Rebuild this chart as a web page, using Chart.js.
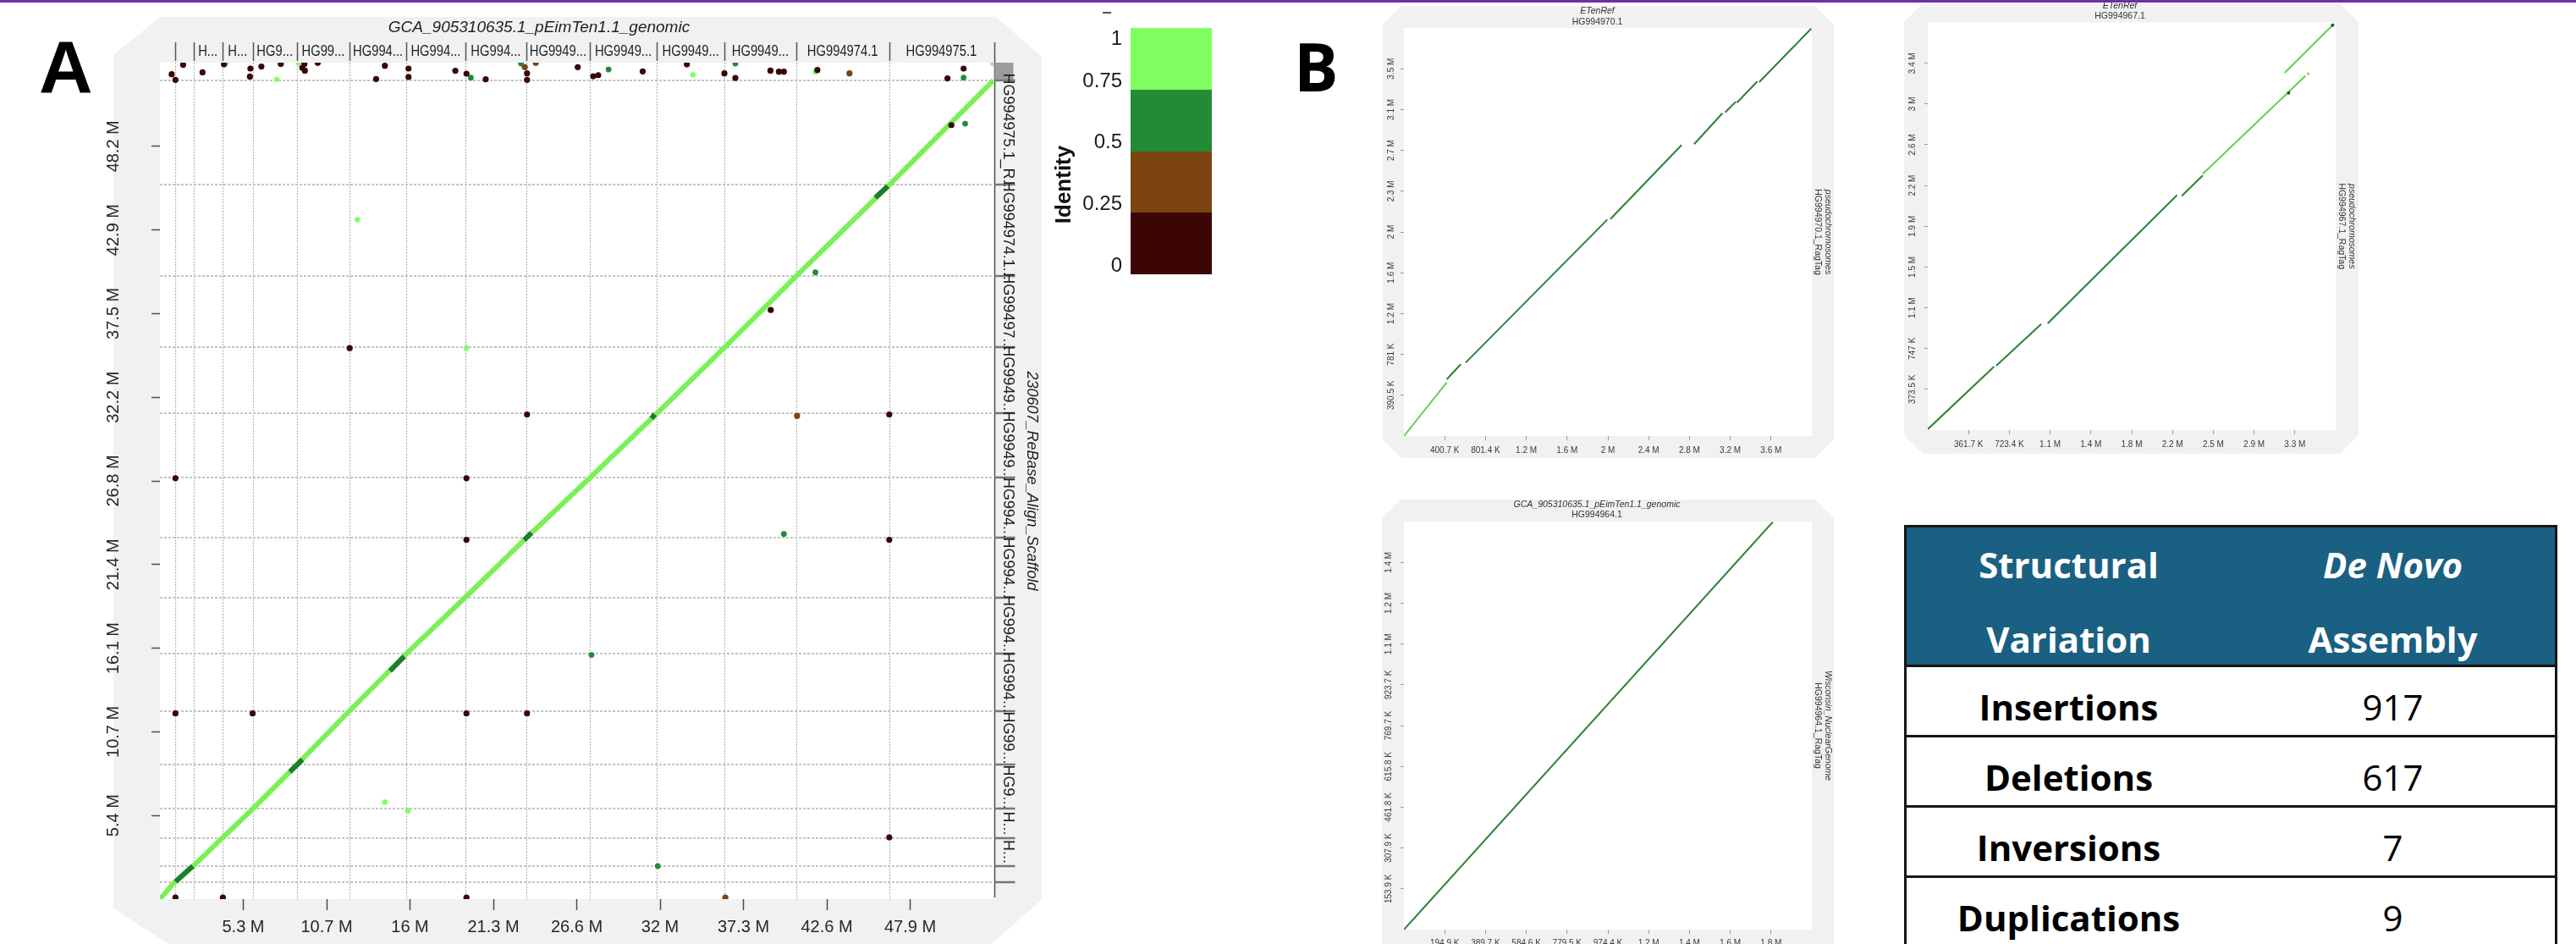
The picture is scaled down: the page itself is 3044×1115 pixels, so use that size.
<!DOCTYPE html>
<html>
<head>
<meta charset="utf-8">
<title>Whole-genome dot plots and structural variation summary</title>
<script src="https://cdn.jsdelivr.net/npm/chart.js@4.4.1/dist/chart.umd.min.js"></script>
<style>
  html, body { margin: 0; padding: 0; background: #fff; }
  body { width: 3044px; height: 1115px; position: relative; overflow: hidden; font-family: 'Liberation Sans', Arial, sans-serif; }
  .abs { position: absolute; }
  canvas { position: absolute; }
  #topRule { left: 0; top: 0; width: 3044px; height: 3px; background: #7030a0; z-index: 5; }
  #tagA { left: 46px; top: 35px; font: 700 88px/1 'Liberation Sans', Arial, sans-serif; color: #000; }
  #tagB { left: 1529px; top: 39px; font: 700 78px/1 'Open Sans', sans-serif; color: #000; }
  #idLegend { left: 1230px; top: 0; width: 220px; height: 340px; }
  #idLegend .bar { position: absolute; left: 106px; top: 33px; width: 96px; height: 291px; display: flex; flex-direction: column; }
  #idLegend .bar div { flex: 1; }
  #idLegend .lab { position: absolute; right: 124px; font: 24px/1 'Liberation Sans', Arial, sans-serif; color: #1a1a1a; transform: translateY(-50%); white-space: nowrap; }
  #idLegend .ttl { position: absolute; left: 26px; top: 218px; font: 700 26px/1 'Liberation Sans', Arial, sans-serif; color: #111; transform: translate(-50%, -50%) rotate(-90deg); white-space: nowrap; }
  #idLegend .nub { position: absolute; left: 73px; top: 14px; width: 10px; height: 2px; background: #555; }
  #svTable { left: 2250px; top: 620px; width: 772px; border: 3px solid #161616; border-bottom: none; box-sizing: border-box; font-family: 'Open Sans', sans-serif; }
  #svTable .head { height: 162px; background: #1a6082; border-bottom: 3px solid #161616; display: flex; color: #fff; font-weight: 700; font-size: 42px; line-height: 88px; }
  #svTable .row { height: 80px; border-bottom: 3px solid #161616; display: flex; font-size: 42px; line-height: 80px; color: #000; }
  #svTable .cell { flex: 1; text-align: center; white-space: nowrap; }
  #svTable .row .cell { padding-top: 7px; height: 73px; }
  #svTable .row .name { font-weight: 700; }
</style>
</head>
<body>
<div id="topRule" class="abs"></div>
<div id="tagA" class="abs">A</div>
<div id="tagB" class="abs">B</div>

<canvas id="dotA" width="1162" height="1115" style="left:100px;top:0;width:1162px;height:1115px"></canvas>
<div id="idLegend" class="abs"></div>

<canvas id="dotB1" width="533" height="545" style="left:1634px;top:0;width:533px;height:545px"></canvas>
<canvas id="dotB2" width="537" height="540" style="left:2250px;top:0;width:537px;height:540px"></canvas>
<canvas id="dotB3" width="534" height="535" style="left:1633px;top:580px;width:534px;height:535px"></canvas>

<div id="svTable" class="abs"></div>

<script>
// ---------------- shared ----------------
const NARROW = "'Liberation Sans Narrow', 'Arial Narrow', 'Liberation Sans', Arial, sans-serif";
const SANS = "'Liberation Sans', Arial, sans-serif";

// identity classes, high → low
const identityBreaks = ['1', '0.75', '0.5', '0.25', '0'];
const identityColors = ['#80ff60', '#238b35', '#7b4411', '#3c0607'];

// ---------------- panel A: whole genome (positions in Mb) ----------------
const refTitle = 'GCA_905310635.1_pEimTen1.1_genomic';
const scafTitle = '230607_ReBase_Align_Scaffold';

const refBoundsMb = [0, 0.95, 2.14, 3.99, 5.93, 8.74, 12.12, 15.73, 19.51, 23.40, 27.46, 31.74, 36.07, 40.63, 46.59, 53.25];
const refNames = ['', '', 'H...', 'H...', 'HG9...', 'HG99...', 'HG994...', 'HG994...', 'HG994...',
                  'HG9949...', 'HG9949...', 'HG9949...', 'HG9949...', 'HG994974.1', 'HG994975.1'];

const scafBoundsMb = [0, 1.11, 2.14, 3.93, 5.78, 8.60, 12.07, 15.71, 19.34, 23.14, 26.99, 31.12, 35.35, 39.91, 45.77, 52.47];
const scafNames = ['', '', 'H...', 'H...', 'HG9...', 'HG99...', 'HG994...', 'HG994...', 'HG994...', 'HG994...',
                   'HG9949...', 'HG9949...', 'HG99497...', 'HG994974.1...', 'HG994975.1_R...'];
const scafTopMb = 53.6;

const xTickMb = [5.325, 10.65, 15.975, 21.3, 26.625, 31.95, 37.275, 42.6, 47.925];
const xTickText = ['5.3 M', '10.7 M', '16 M', '21.3 M', '26.6 M', '32 M', '37.3 M', '42.6 M', '47.9 M'];
const yTickMb = [5.36, 10.72, 16.08, 21.44, 26.8, 32.16, 37.52, 42.88, 48.24];
const yTickText = ['5.4 M', '10.7 M', '16.1 M', '21.4 M', '26.8 M', '32.2 M', '37.5 M', '42.9 M', '48.2 M'];

// main collinear alignment: each reference chromosome start paired with its scaffold start
const alignRefMb = refBoundsMb;
const alignScafMb = scafBoundsMb;

// stretches of the main alignment at 0.5–0.75 identity: [refStart, scafStart, refEnd, scafEnd]
const diagMidBlocks = [
  [1.0, 1.12, 2.1, 2.12],
  [8.3, 8.16, 9.1, 8.95],
  [14.7, 14.62, 15.6, 15.55],
  [23.27, 23.01, 23.73, 23.47],
  [31.4, 30.8, 31.62, 31.06],
  [45.7, 44.95, 46.5, 45.68]
];

// scattered hits, by identity class
const hitsLowX = [0.75, 0.99, 1.48, 2.72, 4.09, 5.78, 5.75, 6.48, 7.72, 9.09, 9.23, 9.26, 10.08, 13.81, 14.37,
                  15.88, 15.88, 18.87, 19.58, 20.81, 23.45, 23.45, 26.69, 27.68, 28.0, 30.84, 33.66, 36.06, 36.76,
                  39.0, 39.54, 39.86, 42.0, 50.31, 51.34,
                  50.56, 39.02, 12.12, 23.45, 46.59, 0.99, 19.58, 19.58, 46.59, 0.99, 5.92, 19.58, 23.45, 46.59,
                  0.99, 4.02, 19.58];
const hitsLowY = [52.86, 52.5, 53.46, 52.98, 53.49, 53.22, 52.71, 53.35, 53.52, 53.27, 53.52, 53.09, 53.58, 52.55, 53.4,
                  53.22, 52.68, 53.08, 52.89, 52.53, 52.91, 52.5, 53.31, 52.73, 52.8, 53.04, 53.49, 52.91, 52.62,
                  53.09, 53.02, 53.02, 53.13, 52.59, 53.22,
                  49.6, 37.75, 35.31, 31.06, 31.06, 26.97, 26.97, 23.03, 23.03, 11.9, 11.9, 11.9, 11.9, 3.96,
                  0.1, 0.1, 0.1];
const hitsLowMidX = [23.31, 24.01, 44.05, 40.7, 36.12];
const hitsLowMidY = [53.31, 53.58, 52.91, 30.97, 0.1];
const hitsHighMidX = [19.86, 23.07, 28.66, 36.76, 51.34, 51.44, 41.87, 27.57, 31.8, 39.86];
const hitsHighMidY = [52.64, 53.54, 53.16, 53.54, 52.64, 49.69, 40.16, 15.65, 2.12, 23.4];
const hitsHighX = [4.26, 7.47, 8.84, 34.05, 41.87, 12.61, 19.58, 14.37, 15.85, 53.22];
const hitsHighY = [53.58, 52.53, 53.58, 52.82, 53.0, 43.54, 35.31, 6.21, 5.66, 53.54];

// ---------------- panel B: single chromosome pairs (positions in Mb) ----------------
const b1Title = 'ETenRef', b1Chrom = 'HG994970.1', b1Side = 'pseudochromosomes', b1SideChrom = 'HG994970.1_RagTag';
const b1XTicks = [0.4007, 0.8014, 1.2021, 1.6028, 2.0035, 2.4042, 2.8049, 3.2056, 3.6063];
const b1XText = ['400.7 K', '801.4 K', '1.2 M', '1.6 M', '2 M', '2.4 M', '2.8 M', '3.2 M', '3.6 M'];
const b1YTicks = [0.3905, 0.781, 1.1715, 1.562, 1.9525, 2.343, 2.7335, 3.124, 3.5145];
const b1YText = ['390.5 K', '781 K', '1.2 M', '1.6 M', '2 M', '2.3 M', '2.7 M', '3.1 M', '3.5 M'];
const b1Len = [4.007, 3.905];
const b1HighSegs = [[0.0, 0.0, 0.421, 0.514]];
const b1MidSegs = [[0.421, 0.543, 0.558, 0.687], [0.606, 0.702, 1.998, 2.071], [2.028, 2.076, 2.728, 2.785],
                   [2.851, 2.793, 3.129, 3.089], [3.156, 3.097, 3.26, 3.199], [3.271, 3.19, 3.471, 3.393],
                   [3.49, 3.387, 4.002, 3.899]];

const b2Title = 'ETenRef', b2Chrom = 'HG994967.1', b2Side = 'pseudochromosomes', b2SideChrom = 'HG994967.1_RagTag';
const b2XTicks = [0.3617, 0.7234, 1.0851, 1.4468, 1.8085, 2.1702, 2.5319, 2.8936, 3.2553];
const b2XText = ['361.7 K', '723.4 K', '1.1 M', '1.4 M', '1.8 M', '2.2 M', '2.5 M', '2.9 M', '3.3 M'];
const b2YTicks = [0.3735, 0.747, 1.1205, 1.494, 1.8675, 2.241, 2.6145, 2.988, 3.3615];
const b2YText = ['373.5 K', '747 K', '1.1 M', '1.5 M', '1.9 M', '2.2 M', '2.6 M', '3 M', '3.4 M'];
const b2Len = [3.617, 3.735];
const b2MidSegs = [[0.0, 0.008, 0.588, 0.581], [0.607, 0.59, 1.006, 0.971], [1.063, 0.977, 2.21, 2.153],
                   [2.252, 2.145, 2.438, 2.333]];
const b2HighSegs = [[2.438, 2.346, 3.35, 3.246], [3.164, 3.274, 3.601, 3.722]];
const b2MidDotsX = [3.20, 3.59], b2MidDotsY = [3.09, 3.71];
const b2LowMidDotsX = [3.373], b2LowMidDotsY = [3.265];

const b3Title = 'GCA_905310635.1_pEimTen1.1_genomic', b3Chrom = 'HG994964.1', b3Side = 'Wisconsin_NuclearGenome', b3SideChrom = 'HG994964.1_RagTag';
const b3XTicks = [0.1949, 0.3897, 0.5846, 0.7795, 0.9744, 1.1692, 1.3641, 1.559, 1.7538];
const b3XText = ['194.9 K', '389.7 K', '584.6 K', '779.5 K', '974.4 K', '1.2 M', '1.4 M', '1.6 M', '1.8 M'];
const b3YTicks = [0.1539, 0.3079, 0.4618, 0.6158, 0.7697, 0.9237, 1.0776, 1.2316, 1.3855];
const b3YText = ['153.9 K', '307.9 K', '461.8 K', '615.8 K', '769.7 K', '923.7 K', '1.1 M', '1.2 M', '1.4 M'];
const b3Len = [1.9487, 1.5395];
const b3MidSegs = [[0.0, 0.0, 1.762, 1.538]];

// ---------------- structural variation table ----------------
const svTypes = ['Insertions', 'Deletions', 'Inversions', 'Duplications'];
const svCounts = [917, 617, 7, 9];

// ---------------- helpers ----------------
const toPoints = (xs, ys) => xs.map((x, i) => ({ x, y: ys[i] }));
const toSegments = segs => segs.flatMap(([x1, y1, x2, y2]) => [{ x: x1, y: y1 }, { x: x2, y: y2 }, { x: x2, y: null }]);
const fixedTicks = values => scale => { scale.ticks = values.map(v => ({ value: v })); };

function polygon(ctx, pts) {
  ctx.beginPath();
  pts.forEach(([px, py], i) => (i ? ctx.lineTo(px, py) : ctx.moveTo(px, py)));
  ctx.closePath();
}
function chamfered(x0, y0, x1, y1, c) {
  return [[x0 + c, y0], [x1 - c, y0], [x1, y0 + c], [x1, y1 - c], [x1 - c, y1], [x0 + c, y1], [x0, y1 - c], [x0, y0 + c]];
}
function segLine(ctx, x1, y1, x2, y2) { ctx.beginPath(); ctx.moveTo(x1, y1); ctx.lineTo(x2, y2); ctx.stroke(); }
// horizontally condensed label, centred on (cx, cy)
function narrowText(ctx, text, cx, cy, squeeze) {
  ctx.save();
  ctx.translate(cx, cy);
  ctx.scale(squeeze, 1);
  ctx.fillText(text, 0, 0);
  ctx.restore();
}

Chart.defaults.font.family = NARROW;
Chart.defaults.color = '#262626';

// ---------------- panel A chart ----------------
const panelAFrame = {
  id: 'panelAFrame',
  beforeDraw(chart) {
    const { ctx, chartArea: ca } = chart;
    ctx.save();
    ctx.fillStyle = '#f1f1f1';
    polygon(ctx, [[89, 20], [1077, 20], [1131, 67], [1131, 1063], [1071, 1115], [99, 1115], [34, 1073], [34, 65]]);
    ctx.fill();
    ctx.fillStyle = '#ffffff';
    ctx.fillRect(ca.left, ca.top, ca.right - ca.left, ca.bottom - ca.top);
    ctx.restore();
  },
  beforeDatasetsDraw(chart) {
    const { ctx, chartArea: ca, scales: { x, y } } = chart;
    ctx.save();
    ctx.lineWidth = 1.2;
    ctx.strokeStyle = '#b3b3b3';
    ctx.setLineDash([2, 1.5]);
    refBoundsMb.slice(1, -1).forEach(v => {
      const px = Math.round(x.getPixelForValue(v)) + 0.5;
      segLine(ctx, px, ca.top, px, ca.bottom);
    });
    ctx.lineWidth = 2.2;
    ctx.strokeStyle = '#c4c4c4';
    ctx.setLineDash([3, 2]);
    scafBoundsMb.slice(1).forEach(v => {
      const py = Math.round(y.getPixelForValue(v));
      segLine(ctx, ca.left, py, ca.right, py);
    });
    ctx.restore();
  },
  afterDraw(chart) {
    const { ctx, chartArea: ca, scales: { x, y } } = chart;
    ctx.save();
    // reference sequence header
    ctx.strokeStyle = '#555';
    ctx.lineWidth = 1.5;
    refBoundsMb.slice(1, -1).forEach(v => {
      const px = Math.round(x.getPixelForValue(v)) + 0.5;
      segLine(ctx, px, 50, px, 72);
    });
    ctx.fillStyle = '#1e1e1e';
    ctx.font = `18px ${SANS}`;
    ctx.textAlign = 'center';
    ctx.textBaseline = 'middle';
    refNames.forEach((name, i) => {
      if (!name) return;
      const cx = (x.getPixelForValue(refBoundsMb[i]) + x.getPixelForValue(refBoundsMb[i + 1])) / 2;
      narrowText(ctx, name, cx, 61, 0.82);
    });
    // scaffold side strip
    const rx = Math.round(ca.right) + 1.5;
    segLine(ctx, rx, 50, rx, ca.bottom - 2);
    ctx.fillStyle = '#9c9c9c';
    const yTop = y.getPixelForValue(scafTopMb), yStrip = y.getPixelForValue(scafBoundsMb[scafBoundsMb.length - 1]);
    ctx.fillRect(rx, yTop, 22, yStrip - yTop);
    ctx.strokeStyle = '#777';
    ctx.lineWidth = 2.5;
    scafBoundsMb.slice(1).forEach(v => {
      const py = Math.round(y.getPixelForValue(v));
      segLine(ctx, rx, py, rx + 24, py);
    });
    ctx.fillStyle = '#1e1e1e';
    ctx.font = `18px ${SANS}`;
    scafNames.forEach((name, i) => {
      if (!name) return;
      const cy = (y.getPixelForValue(scafBoundsMb[i]) + y.getPixelForValue(scafBoundsMb[i + 1])) / 2;
      ctx.save();
      ctx.translate(rx + 15, cy);
      ctx.rotate(Math.PI / 2);
      ctx.fillText(name, 0, 0);
      ctx.restore();
    });
    ctx.font = `italic 18px ${NARROW}`;
    ctx.translate(1119, (ca.top + ca.bottom) / 2);
    ctx.rotate(Math.PI / 2);
    ctx.fillText(scafTitle, 0, 0);
    ctx.restore();
  }
};

new Chart(document.getElementById('dotA'), {
  type: 'scatter',
  data: {
    datasets: [
      { data: toPoints(alignRefMb, alignScafMb), showLine: true, borderColor: '#78f157', borderWidth: 6,
        pointRadius: 0, order: 4 },
      { data: toSegments(diagMidBlocks), showLine: true, spanGaps: false, borderColor: '#1c7d2c', borderWidth: 6,
        pointRadius: 0, order: 3 },
      { data: toPoints(hitsLowX, hitsLowY), pointRadius: 3.6, pointBackgroundColor: identityColors[3],
        pointBorderWidth: 0, order: 1 },
      { data: toPoints(hitsLowMidX, hitsLowMidY), pointRadius: 3.6, pointBackgroundColor: identityColors[2],
        pointBorderWidth: 0, order: 1 },
      { data: toPoints(hitsHighMidX, hitsHighMidY), pointRadius: 3.4, pointBackgroundColor: identityColors[1],
        pointBorderWidth: 0, order: 1 },
      { data: toPoints(hitsHighX, hitsHighY), pointRadius: 3.2, pointBackgroundColor: identityColors[0],
        pointBorderWidth: 0, order: 2 }
    ]
  },
  options: {
    responsive: false, animation: false, events: [], devicePixelRatio: 1,
    layout: { padding: { left: 0, right: 88, top: 0, bottom: 0 } },
    plugins: {
      legend: { display: false }, tooltip: { enabled: false },
      title: { display: true, text: refTitle, color: '#1e1e1e',
               font: { family: NARROW, size: 19, style: 'italic', weight: 'normal' },
               padding: { top: 21.6, bottom: 29.6 } }
    },
    scales: {
      x: {
        type: 'linear', min: 0, max: refBoundsMb[refBoundsMb.length - 1],
        afterBuildTicks: fixedTicks(xTickMb),
        afterFit: s => { s.height = 53; },
        border: { display: false },
        grid: { drawOnChartArea: false, drawTicks: true, tickLength: 13, tickColor: '#4d4d4d', tickWidth: 1.5 },
        ticks: { autoSkip: false, minRotation: 0, maxRotation: 0, padding: 8, color: '#262626',
                 font: { family: NARROW, size: 20 }, callback: (v, i) => xTickText[i] }
      },
      y: {
        type: 'linear', min: 0, max: scafTopMb,
        afterBuildTicks: fixedTicks(yTickMb),
        afterFit: s => { s.width = 89; },
        border: { display: false },
        grid: { drawOnChartArea: false, drawTicks: true, tickLength: 10, tickColor: '#4d4d4d', tickWidth: 1.5 },
        ticks: { autoSkip: false, minRotation: 90, maxRotation: 90, crossAlign: 'center', padding: 14,
                 color: '#262626', font: { family: NARROW, size: 20 }, callback: (v, i) => yTickText[i] }
      }
    }
  },
  plugins: [panelAFrame]
});

// ---------------- identity legend ----------------
(function buildLegend() {
  const host = document.getElementById('idLegend');
  const labelCentres = [45, 95, 167, 240, 313];
  let html = '<div class="nub"></div><div class="bar">' +
    identityColors.map(c => `<div style="background:${c}"></div>`).join('') + '</div>';
  identityBreaks.forEach((t, i) => { html += `<div class="lab" style="top:${labelCentres[i]}px">${t}</div>`; });
  html += '<div class="ttl">Identity</div>';
  host.innerHTML = html;
})();

// ---------------- panel B charts ----------------
function miniFrame(g) {
  return {
    id: 'miniFrame',
    beforeDraw(chart) {
      const { ctx, chartArea: ca } = chart;
      ctx.save();
      ctx.fillStyle = '#f1f1f1';
      polygon(ctx, chamfered(g.box[0], g.box[1], g.box[2], g.box[3], 22));
      ctx.fill();
      ctx.fillStyle = '#ffffff';
      ctx.fillRect(ca.left, ca.top, ca.right - ca.left, ca.bottom - ca.top);
      ctx.restore();
    },
    afterDraw(chart) {
      const { ctx, chartArea: ca } = chart;
      const cy = (ca.top + ca.bottom) / 2;
      ctx.save();
      ctx.fillStyle = '#333';
      ctx.textAlign = 'center';
      ctx.textBaseline = 'middle';
      ctx.font = `10.5px ${NARROW}`;
      ctx.save(); ctx.translate(ca.right + 7, cy); ctx.rotate(Math.PI / 2); ctx.fillText(g.sideChrom, 0, 0); ctx.restore();
      ctx.font = `italic 10.5px ${NARROW}`;
      ctx.save(); ctx.translate(ca.right + 19, cy); ctx.rotate(Math.PI / 2); ctx.fillText(g.side, 0, 0); ctx.restore();
      ctx.restore();
    }
  };
}

function miniDotplot(id, s) {
  const lines = s.tracks.map(t => ({
    data: toSegments(t.segs), showLine: true, spanGaps: false, borderColor: t.color,
    borderWidth: 2, pointRadius: 0, order: 2
  }));
  const dots = (s.dots || []).map(d => ({
    data: toPoints(d.xs, d.ys), pointRadius: d.r, pointBackgroundColor: d.color, pointBorderWidth: 0, order: 1
  }));
  new Chart(document.getElementById(id), {
    type: 'scatter',
    data: { datasets: [...lines, ...dots] },
    options: {
      responsive: false, animation: false, events: [], devicePixelRatio: 1,
      layout: { padding: { left: 0, right: s.padRight, top: 0, bottom: 0 } },
      plugins: {
        legend: { display: false }, tooltip: { enabled: false },
        title: { display: true, text: s.title, color: '#333', font: { family: NARROW, size: 10.5, style: 'italic', weight: 'normal' },
                 padding: { top: s.titleTop, bottom: 0 } },
        subtitle: { display: true, text: s.chrom, color: '#333', font: { family: NARROW, size: 10.5, weight: 'normal' },
                    padding: { top: s.subTop, bottom: s.subBottom } }
      },
      scales: {
        x: {
          type: 'linear', min: 0, max: s.len[0],
          afterBuildTicks: fixedTicks(s.xTicks),
          afterFit: sc => { sc.height = s.xHeight; },
          border: { display: false },
          grid: { drawOnChartArea: false, drawTicks: true, tickLength: 5, tickColor: '#9a9a9a', tickWidth: 1 },
          ticks: { autoSkip: false, minRotation: 0, maxRotation: 0, padding: s.xPad, color: '#3a3a3a',
                   font: { family: NARROW, size: 10 }, callback: (v, i) => s.xText[i] }
        },
        y: {
          type: 'linear', min: 0, max: s.len[1],
          afterBuildTicks: fixedTicks(s.yTicks),
          afterFit: sc => { sc.width = s.yWidth; },
          border: { display: false },
          grid: { drawOnChartArea: false, drawTicks: true, tickLength: 4, tickColor: '#9a9a9a', tickWidth: 1 },
          ticks: { autoSkip: false, minRotation: 90, maxRotation: 90, crossAlign: 'center', padding: s.yPad,
                   color: '#3a3a3a', font: { family: NARROW, size: 10 }, callback: (v, i) => s.yText[i] }
        }
      }
    },
    plugins: [miniFrame({ box: s.box, side: s.side, sideChrom: s.sideChrom })]
  });
}

miniDotplot('dotB1', {
  title: b1Title, chrom: b1Chrom, side: b1Side, sideChrom: b1SideChrom,
  xTicks: b1XTicks, xText: b1XText, yTicks: b1YTicks, yText: b1YText, len: b1Len,
  tracks: [{ segs: b1HighSegs, color: '#5fd34f' }, { segs: b1MidSegs, color: '#2f7f34' }],
  box: [0, 7, 533, 541], padRight: 26, yWidth: 25, xHeight: 30,
  titleTop: 6.7, subTop: 0.1, subBottom: 1.0, xPad: 6, yPad: -6
});

miniDotplot('dotB2', {
  title: b2Title, chrom: b2Chrom, side: b2Side, sideChrom: b2SideChrom,
  xTicks: b2XTicks, xText: b2XText, yTicks: b2YTicks, yText: b2YText, len: b2Len,
  tracks: [{ segs: b2MidSegs, color: '#2f7f34' }, { segs: b2HighSegs, color: '#5fd34f' }],
  dots: [{ xs: b2MidDotsX, ys: b2MidDotsY, color: '#1f5e26', r: 2 },
         { xs: b2LowMidDotsX, ys: b2LowMidDotsY, color: '#e39a5c', r: 1.6 }],
  box: [0, 4, 537, 536], padRight: 27, yWidth: 28, xHeight: 32,
  titleTop: 0.7, subTop: 0, subBottom: 0.6, xPad: 6, yPad: -3
});

miniDotplot('dotB3', {
  title: b3Title, chrom: b3Chrom, side: b3Side, sideChrom: b3SideChrom,
  xTicks: b3XTicks, xText: b3XText, yTicks: b3YTicks, yText: b3YText, len: b3Len,
  tracks: [{ segs: b3MidSegs, color: '#2f7f34' }],
  box: [0, 10, 534, 560], padRight: 26, yWidth: 26, xHeight: 17,
  titleTop: 9.7, subTop: 0, subBottom: 1.2, xPad: 5, yPad: -3
});

// ---------------- structural variation table ----------------
(function buildTable() {
  const t = document.getElementById('svTable');
  let html = '<div class="head"><div class="cell">Structural<br>Variation</div>' +
             '<div class="cell"><i>De Novo</i><br>Assembly</div></div>';
  svTypes.forEach((name, i) => {
    html += `<div class="row"><div class="cell name">${name}</div><div class="cell">${svCounts[i]}</div></div>`;
  });
  t.innerHTML = html;
})();
</script>
</body>
</html>
